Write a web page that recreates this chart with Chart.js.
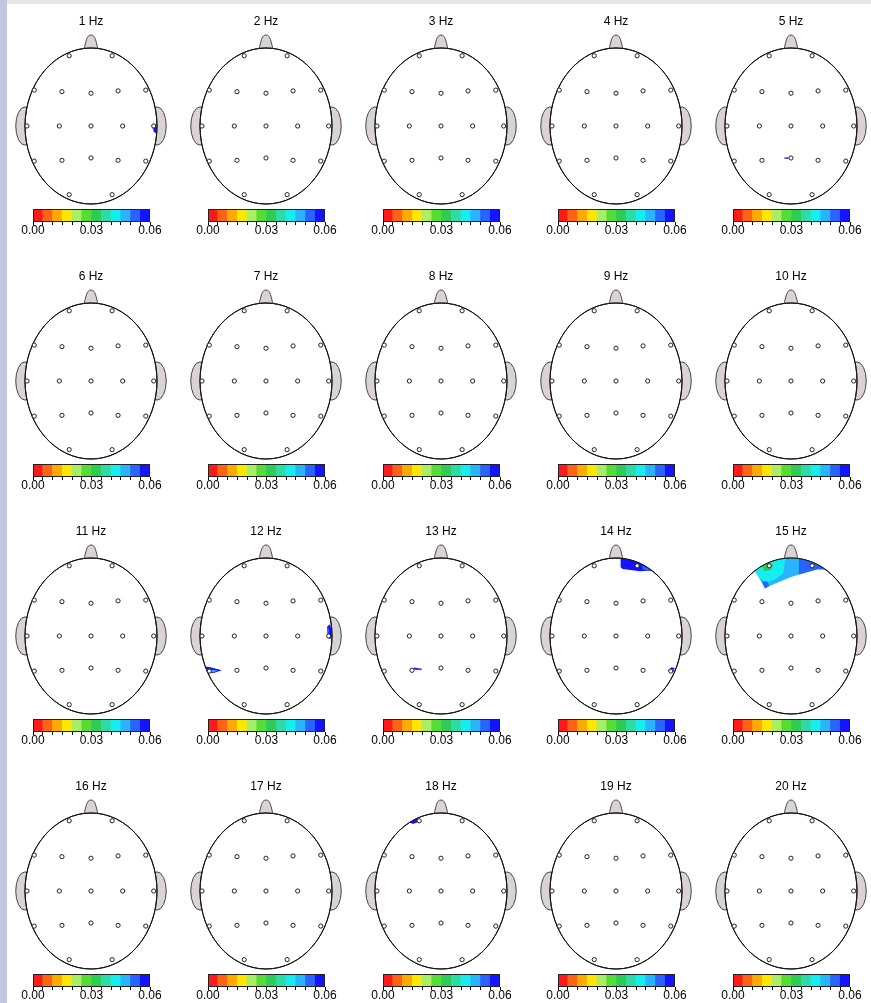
<!DOCTYPE html>
<html>
<head>
<meta charset="utf-8">
<script src="https://cdn.jsdelivr.net/npm/chart.js@4.4.1/dist/chart.umd.min.js"></script>
<style>
  html, body { margin: 0; padding: 0; background: #fff; overflow: hidden; width: 871px; height: 1003px; }
  #leftStrip { position: absolute; left: 0; top: 0; width: 7px; height: 1003px; background: #c3c6de; }
  #topStrip { position: absolute; left: 7px; top: 0; width: 864px; height: 4px; background: #e6e6e6; }
  canvas { position: absolute; }
</style>
</head>
<body>
<div id="leftStrip"></div>
<div id="topStrip"></div>
<script>
// panel titles
const freqLabels = ['1 Hz', '2 Hz', '3 Hz', '4 Hz', '5 Hz', '6 Hz', '7 Hz', '8 Hz', '9 Hz', '10 Hz',
  '11 Hz', '12 Hz', '13 Hz', '14 Hz', '15 Hz', '16 Hz', '17 Hz', '18 Hz', '19 Hz', '20 Hz'];

// electrode positions, head units (x right, y towards nose)
const electrodeX = [-0.33, 0.32, -0.86, -0.44, 0, 0.41, 0.83, -0.97, -0.48, 0, 0.48, 0.95, -0.86, -0.44, 0, 0.41, 0.83, -0.33, 0.32];
const electrodeY = [0.90, 0.90, 0.46, 0.44, 0.42, 0.45, 0.46, 0, 0, 0, 0, 0, -0.45, -0.44, -0.41, -0.44, -0.45, -0.88, -0.88];

// colour scale
const scaleColors = ['#ff1a1a', '#ff6414', '#ffaa00', '#ffe600', '#aaee66', '#55dd33',
  '#2dcc55', '#2ddca5', '#14eeee', '#28b4ff', '#2864ff', '#1414ff'];
const colorbarBins = [0.0025, 0.0075, 0.0125, 0.0175, 0.0225, 0.0275, 0.0325, 0.0375, 0.0425, 0.0475, 0.0525, 0.0575];
const scaleMin = 0, scaleMax = 0.06, scaleStep = 0.005;
const tickLabelValues = [0, 0.03, 0.06];

// coloured patches (value + outline in head units)
const spots1Hz = [
  { value: 0.058, pts: [[0.94, 0.03], [0.985, 0.02], [0.995, -0.05], [0.985, -0.10], [0.95, -0.07], [0.93, -0.02]] },
  { value: 0.046, pts: [[0.935, -0.02], [0.955, -0.04], [0.945, -0.07]] }
];
const spots5Hz = [
  { value: 0.06, pts: [[-0.10, -0.405], [-0.04, -0.40], [-0.04, -0.42], [-0.10, -0.42]] }
];
const spots12Hz = [
  { value: 0.058, pts: [[0.925, 0.12], [0.965, 0.15], [0.99, 0.10], [0.995, 0.0], [0.975, -0.04], [0.94, -0.03]] },
  { value: 0.05, pts: [[0.93, 0.09], [0.955, 0.10], [0.95, 0.03], [0.93, 0.03]] },
  { value: 0.058, pts: [[-0.93, -0.39], [-0.84, -0.40], [-0.67, -0.44], [-0.78, -0.47], [-0.91, -0.48]] },
  { value: 0.045, pts: [[-0.88, -0.425], [-0.72, -0.445], [-0.83, -0.465], [-0.89, -0.465]] },
  { value: 0.03, pts: [[-0.84, -0.44], [-0.75, -0.45], [-0.83, -0.465]] }
];
const spots13Hz = [
  { value: 0.058, pts: [[-0.41, -0.405], [-0.29, -0.42], [-0.30, -0.44], [-0.41, -0.43]] },
  { value: 0.045, pts: [[-0.36, -0.42], [-0.31, -0.425], [-0.33, -0.435]] }
];
const spots14Hz = [
  { value: 0.06, pts: [[0.07, 0.998], [0.2, 0.98], [0.35, 0.937], [0.48, 0.877], [0.56, 0.83], [0.47, 0.835], [0.36, 0.83], [0.22, 0.845], [0.10, 0.86], [0.07, 0.88]] },
  { value: 0.053, pts: [[0.40, 0.905], [0.50, 0.866], [0.55, 0.835], [0.46, 0.84], [0.40, 0.855]] },
  { value: 0.058, pts: [[0.78, -0.45], [0.84, -0.40], [0.89, -0.41], [0.87, -0.46]] },
  { value: 0.045, pts: [[0.83, -0.43], [0.88, -0.425], [0.86, -0.45]] }
];
const spots15Hz = [
  { value: 0.048, pts: [[-0.55, 0.835], [-0.45, 0.893], [-0.3, 0.954], [-0.15, 0.989], [0, 1.0], [0.15, 0.989], [0.3, 0.954], [0.45, 0.893], [0.52, 0.854],
    [0.40, 0.855], [0.21, 0.81], [0.0, 0.755], [-0.2, 0.685], [-0.33, 0.64], [-0.395, 0.61], [-0.44, 0.68], [-0.50, 0.77]] },
  { value: 0.054, pts: [[0.12, 0.993], [0.3, 0.954], [0.45, 0.893], [0.52, 0.854], [0.40, 0.855], [0.22, 0.81], [0.12, 0.79]] },
  { value: 0.043, pts: [[-0.55, 0.835], [-0.45, 0.893], [-0.3, 0.954], [-0.15, 0.989], [-0.08, 0.997], [-0.12, 0.80], [-0.25, 0.72], [-0.38, 0.68], [-0.47, 0.74]] },
  { value: 0.03, pts: [[-0.44, 0.90], [-0.36, 0.934], [-0.27, 0.92], [-0.30, 0.85], [-0.40, 0.83]] },
  { value: 0.054, pts: [[-0.44, 0.70], [-0.395, 0.61], [-0.33, 0.64], [-0.36, 0.70]] }
];
const spots18Hz = [
  { value: 0.06, pts: [[-0.48, 0.877], [-0.42, 0.907], [-0.36, 0.933], [-0.35, 0.885], [-0.42, 0.86]] }
];
const panelSpots = { 0: spots1Hz, 4: spots5Hz, 11: spots12Hz, 12: spots13Hz, 13: spots14Hz, 14: spots15Hz, 17: spots18Hz };

// layout
const colCenters = [91, 266, 441, 616, 791];
const rowTops = [0, 255, 510, 765];
const headRx = 66, headRy = 78, headCy = 126;
const FONT = 'Liberation Sans, Arial, Helvetica, sans-serif';

Chart.defaults.font.family = FONT;
Chart.defaults.animation = false;

function colorFor(v) {
  const i = Math.max(0, Math.min(scaleColors.length - 1, Math.floor((v - scaleMin) / scaleStep + 1e-9)));
  return scaleColors[i];
}

function geom(chart) {
  const x = chart.scales.x, y = chart.scales.y;
  const cx = x.getPixelForValue(0), cy = y.getPixelForValue(0);
  return { cx, cy, rx: x.getPixelForValue(1) - cx, ry: cy - y.getPixelForValue(1) };
}

function headPath(ctx, g) {
  ctx.beginPath();
  ctx.ellipse(g.cx, g.cy, g.rx, g.ry, 0, 0, Math.PI * 2);
}

const headPlugin = {
  id: 'head',
  beforeDatasetsDraw(chart) {
    const ctx = chart.ctx, g = geom(chart);
    ctx.save();
    ctx.fillStyle = '#d9d3d3';
    ctx.strokeStyle = '#444';
    ctx.lineWidth = 1;
    // ears
    [-1, 1].forEach(s => {
      ctx.beginPath();
      ctx.ellipse(g.cx + s * g.rx, g.cy, g.rx * 0.14, g.ry * 0.245, 0, 0, Math.PI * 2);
      ctx.fill();
      ctx.stroke();
    });
    // nose
    const top = g.cy - g.ry;
    ctx.beginPath();
    ctx.moveTo(g.cx - 7, top + 1);
    ctx.bezierCurveTo(g.cx - 5, top - 6, g.cx - 4.5, top - 13, g.cx, top - 13);
    ctx.bezierCurveTo(g.cx + 4.5, top - 13, g.cx + 5, top - 6, g.cx + 7, top + 1);
    ctx.closePath();
    ctx.fill();
    ctx.stroke();
    // scalp
    headPath(ctx, g);
    ctx.fillStyle = '#fff';
    ctx.fill();
    ctx.strokeStyle = '#111';
    ctx.lineWidth = 1;
    ctx.stroke();
    ctx.restore();
  },
  beforeDatasetDraw(chart, args) {
    if (args.index !== 0) return;
    // outline again over the patches, under the electrodes
    const ctx = chart.ctx, g = geom(chart);
    ctx.save();
    headPath(ctx, g);
    ctx.strokeStyle = '#111';
    ctx.lineWidth = 1;
    ctx.stroke();
    ctx.restore();
  },
  afterDatasetDraw(chart, args) {
    const ds = chart.data.datasets[args.index];
    if (ds.spotValue === undefined) return;
    const ctx = chart.ctx, g = geom(chart);
    const pts = args.meta.data;
    ctx.save();
    headPath(ctx, g);
    ctx.clip();
    ctx.beginPath();
    pts.forEach((p, j) => j ? ctx.lineTo(p.x, p.y) : ctx.moveTo(p.x, p.y));
    ctx.closePath();
    ctx.fillStyle = colorFor(ds.spotValue);
    ctx.fill();
    ctx.restore();
  }
};

const framePlugin = {
  id: 'frame',
  afterDatasetsDraw(chart) {
    const { ctx, chartArea: a } = chart;
    ctx.save();
    ctx.strokeStyle = '#222';
    ctx.lineWidth = 1;
    ctx.strokeRect(Math.round(a.left) + 0.5, Math.round(a.top) + 0.5, Math.round(a.width) - 1, Math.round(a.height) - 1);
    ctx.restore();
  }
};

function addCanvas(left, top, w, h) {
  const c = document.createElement('canvas');
  c.width = w; c.height = h;
  c.style.left = left + 'px'; c.style.top = top + 'px';
  c.style.width = w + 'px'; c.style.height = h + 'px';
  document.body.appendChild(c);
  return c;
}

function makeHead(label, cx, rowTop, spots) {
  const canvasTop = rowTop + 6, canvasH = 201;
  const titleH = 12 * 1.2 + 8 + 5;
  const areaTop = 6 + titleH, areaBottom = 6 + canvasH;
  const c = addCanvas(cx - 87, canvasTop, 174, canvasH);
  const datasets = [{
    data: electrodeX.map((x, k) => ({ x, y: electrodeY[k] })),
    pointRadius: 2.1,
    pointBorderWidth: 1,
    pointBorderColor: '#222',
    pointBackgroundColor: '#fff',
    order: 0
  }];
  spots.forEach((s, k) => {
    datasets.push({
      data: s.pts.map(p => ({ x: p[0], y: p[1] })),
      pointRadius: 0,
      showLine: false,
      spotValue: s.value,
      order: 100 - k
    });
  });
  new Chart(c, {
    type: 'scatter',
    data: { datasets },
    options: {
      responsive: false,
      events: [],
      layout: { padding: 0, autoPadding: false },
      plugins: {
        legend: { display: false },
        tooltip: { enabled: false },
        title: {
          display: true, text: label, color: '#000',
          font: { size: 12, weight: 'normal', family: FONT },
          padding: { top: 8, bottom: 5 }
        }
      },
      scales: {
        x: { type: 'linear', display: false, min: -87 / headRx, max: 87 / headRx },
        y: { type: 'linear', display: false, min: -(areaBottom - headCy) / headRy, max: (headCy - areaTop) / headRy }
      }
    },
    plugins: [headPlugin]
  });
}

function makeColorbar(cx, rowTop) {
  const c = addCanvas(cx - 76, rowTop + 205, 152, 30);
  new Chart(c, {
    type: 'bar',
    data: {
      datasets: [{
        data: colorbarBins.map(b => ({ x: b, y: 1 })),
        backgroundColor: scaleColors,
        borderWidth: 0,
        barPercentage: 1,
        categoryPercentage: 1
      }]
    },
    options: {
      responsive: false,
      events: [],
      layout: { padding: { left: 18, right: 17, top: 4, bottom: 0 }, autoPadding: false },
      plugins: { legend: { display: false }, tooltip: { enabled: false } },
      scales: {
        x: {
          type: 'linear', min: scaleMin, max: scaleMax, offset: false,
          grid: { offset: false, drawOnChartArea: false, color: '#000', tickLength: 3 },
          border: { display: false },
          ticks: {
            stepSize: scaleStep, autoSkip: false, maxRotation: 0, minRotation: 0, padding: -2,
            color: '#000', font: { size: 12, family: FONT },
            callback: v => tickLabelValues.some(t => Math.abs(t - v) < 1e-9) ? v.toFixed(2) : ''
          }
        },
        y: { type: 'linear', display: false, min: 0, max: 1 }
      }
    },
    plugins: [framePlugin]
  });
}

freqLabels.forEach((label, i) => {
  const cx = colCenters[i % 5];
  const rowTop = rowTops[Math.floor(i / 5)];
  makeHead(label, cx, rowTop, panelSpots[i] || []);
  makeColorbar(cx, rowTop);
});
</script>
</body>
</html>
